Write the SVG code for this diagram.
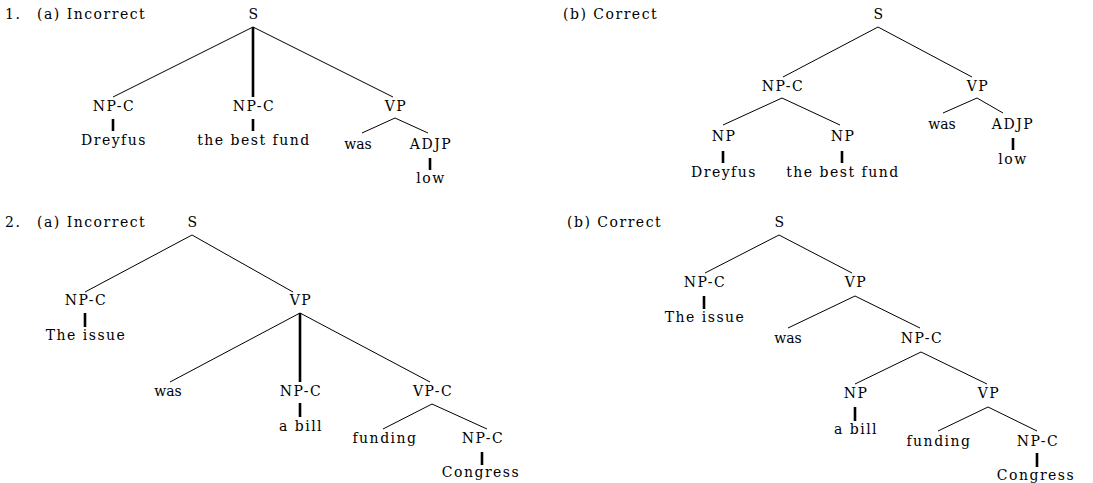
<svg xmlns="http://www.w3.org/2000/svg" width="1093" height="483" viewBox="0 0 1093 483">
<style>
text{font-family:'DejaVu Serif',serif;font-size:14px;fill:#000;letter-spacing:1.5px;text-anchor:middle}
text.l{text-anchor:start}
text.w{letter-spacing:0px}
.e line{stroke:#000;stroke-width:1}
.e line.t{stroke-width:2.6}
</style>
<rect width="1093" height="483" fill="#fff"/>
<g id="titles">
<text class="l" x="5" y="19">1.</text>
<text class="l" x="37" y="19">(a) Incorrect</text>
<text class="l" x="563" y="19">(b) Correct</text>
<text class="l" x="5" y="227">2.</text>
<text class="l" x="37" y="227">(a) Incorrect</text>
<text class="l" x="567" y="227">(b) Correct</text>
</g>
<g id="connectors" class="e">
<line x1="253" y1="27" x2="113" y2="97"/>
<line class="t" x1="253" y1="27" x2="253" y2="97"/>
<line x1="253" y1="27" x2="393" y2="97"/>
<line class="t" x1="113" y1="119" x2="113" y2="131"/>
<line class="t" x1="253" y1="119" x2="253" y2="131"/>
<line x1="395" y1="118" x2="362" y2="133"/>
<line x1="395" y1="118" x2="428" y2="133"/>
<line class="t" x1="430" y1="158" x2="430" y2="170"/>
<line x1="878" y1="27" x2="783" y2="77"/>
<line x1="878" y1="27" x2="972" y2="77"/>
<line x1="782" y1="98" x2="723" y2="125"/>
<line x1="782" y1="98" x2="840" y2="125"/>
<line class="t" x1="723" y1="151" x2="723" y2="163"/>
<line class="t" x1="842" y1="151" x2="842" y2="163"/>
<line x1="977" y1="98" x2="943" y2="113"/>
<line x1="977" y1="98" x2="1003" y2="113"/>
<line class="t" x1="1013" y1="138" x2="1013" y2="150"/>
<line x1="192" y1="235" x2="85" y2="292"/>
<line x1="192" y1="235" x2="293" y2="292"/>
<line class="t" x1="85" y1="313" x2="85" y2="327"/>
<line x1="300" y1="313" x2="170" y2="382"/>
<line class="t" x1="300" y1="313" x2="300" y2="382"/>
<line x1="300" y1="313" x2="430" y2="382"/>
<line class="t" x1="300" y1="403" x2="300" y2="417"/>
<line x1="432" y1="404" x2="383" y2="429"/>
<line x1="432" y1="404" x2="487" y2="429"/>
<line class="t" x1="482" y1="452" x2="482" y2="465"/>
<line x1="779" y1="235" x2="705" y2="273"/>
<line x1="779" y1="235" x2="852" y2="273"/>
<line class="t" x1="704" y1="296" x2="704" y2="309"/>
<line x1="855" y1="296" x2="788" y2="328"/>
<line x1="855" y1="296" x2="920" y2="328"/>
<line x1="921" y1="352" x2="855" y2="384"/>
<line x1="921" y1="352" x2="987" y2="384"/>
<line class="t" x1="855" y1="407" x2="855" y2="421"/>
<line x1="988" y1="407" x2="938" y2="431"/>
<line x1="988" y1="407" x2="1037" y2="431"/>
<line class="t" x1="1037" y1="453" x2="1037" y2="467"/>
</g>
<g id="t1a">
<g id="n1a-S"><text x="254" y="19">S</text></g>
<g id="n1a-NPC1"><text x="114" y="111">NP-C</text></g>
<g id="n1a-NPC2"><text x="254" y="111">NP-C</text></g>
<g id="n1a-VP"><text x="396" y="111">VP</text></g>
<g id="n1a-Dreyfus"><text x="114" y="145">Dreyfus</text></g>
<g id="n1a-fund"><text x="254" y="145">the best fund</text></g>
<g id="n1a-was"><text class="w" x="358" y="149">was</text></g>
<g id="n1a-ADJP"><text x="431" y="149">ADJP</text></g>
<g id="n1a-low"><text x="431" y="183">low</text></g>
</g>
<g id="t1b">
<g id="n1b-S"><text x="879" y="19">S</text></g>
<g id="n1b-NPC"><text x="783" y="91">NP-C</text></g>
<g id="n1b-VP"><text x="978" y="91">VP</text></g>
<g id="n1b-NP1"><text x="724" y="141">NP</text></g>
<g id="n1b-NP2"><text x="843" y="141">NP</text></g>
<g id="n1b-Dreyfus"><text x="724" y="177">Dreyfus</text></g>
<g id="n1b-fund"><text x="843" y="177">the best fund</text></g>
<g id="n1b-was"><text class="w" x="942" y="129">was</text></g>
<g id="n1b-ADJP"><text x="1013" y="129">ADJP</text></g>
<g id="n1b-low"><text x="1013" y="164">low</text></g>
</g>
<g id="t2a">
<g id="n2a-S"><text x="193" y="227">S</text></g>
<g id="n2a-NPC"><text x="86" y="305">NP-C</text></g>
<g id="n2a-VP"><text x="301" y="305">VP</text></g>
<g id="n2a-issue"><text x="86" y="340">The issue</text></g>
<g id="n2a-was"><text class="w" x="168" y="396">was</text></g>
<g id="n2a-NPC2"><text x="301" y="396">NP-C</text></g>
<g id="n2a-VPC"><text x="433" y="396">VP-C</text></g>
<g id="n2a-bill"><text x="301" y="431">a bill</text></g>
<g id="n2a-funding"><text x="385" y="443">funding</text></g>
<g id="n2a-NPC3"><text x="483" y="443">NP-C</text></g>
<g id="n2a-Congress"><text x="481" y="477">Congress</text></g>
</g>
<g id="t2b">
<g id="n2b-S"><text x="780" y="227">S</text></g>
<g id="n2b-NPC"><text x="705" y="287">NP-C</text></g>
<g id="n2b-VP"><text x="856" y="287">VP</text></g>
<g id="n2b-issue"><text x="705" y="322">The issue</text></g>
<g id="n2b-was"><text class="w" x="788" y="343">was</text></g>
<g id="n2b-NPC2"><text x="922" y="343">NP-C</text></g>
<g id="n2b-NP"><text x="856" y="398">NP</text></g>
<g id="n2b-VP2"><text x="989" y="398">VP</text></g>
<g id="n2b-bill"><text x="856" y="434">a bill</text></g>
<g id="n2b-funding"><text x="939" y="446">funding</text></g>
<g id="n2b-NPC3"><text x="1038" y="446">NP-C</text></g>
<g id="n2b-Congress"><text x="1036" y="480">Congress</text></g>
</g>
</svg>
